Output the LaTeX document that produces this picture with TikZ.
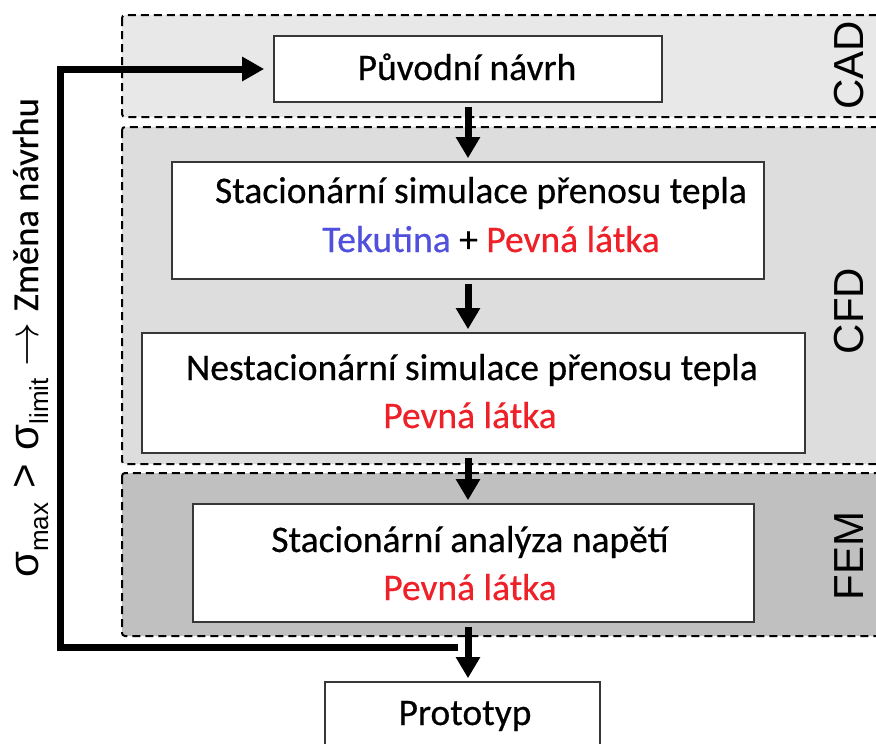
\RequirePackage{fix-cm}
\documentclass[tikz,border=0pt]{standalone}
\usepackage{fontspec}
\setmainfont{Carlito}[FakeBold=0.5]
\newfontfamily\arialf{Liberation Sans}
\usetikzlibrary{arrows.meta}
\definecolor{cadfill}{RGB}{232,232,232}
\definecolor{cfdfill}{RGB}{221,221,221}
\definecolor{femfill}{RGB}{192,192,192}
\definecolor{fluidblue}{RGB}{80,80,220}
\definecolor{solidred}{RGB}{238,32,40}
\definecolor{boxline}{RGB}{55,55,55}
\newcommand{\sigsub}[1]{\raisebox{-10pt}{\fontsize{26}{28}\selectfont #1}}
\begin{document}
\begin{tikzpicture}[x=1pt,y=-1pt,
  band/.style={draw=black, dash pattern=on 8pt off 5pt, line width=2pt, rounded corners=3pt},
  stepbox/.style={draw=boxline, fill=white, line width=1.6pt, inner sep=0pt},
  txt/.style={anchor=base, inner sep=0pt, font=\fontsize{37.5}{42}\selectfont},
  tag/.style={rotate=90, anchor=base, inner sep=0pt, font=\arialf\fontsize{42}{46}\selectfont},
  flow/.style={line width=7pt, -{Triangle[width=23pt,length=21pt]}, shorten <=4pt, shorten >=3pt},
]
\useasboundingbox (0,0) rectangle (876,744);
\clip (0,0) rectangle (876,744);
% bands
\draw[band, fill=cadfill] (122,15) rectangle (895,117);
\draw[band, fill=cfdfill] (122,127) rectangle (895,464);
\draw[band, fill=femfill] (122,473) rectangle (895,636);
% boxes
\node[stepbox, minimum width=388pt, minimum height=66pt] (orig) at (468,69) {};
\node[stepbox, minimum width=592pt, minimum height=117pt] (sim1) at (468,220.5) {};
\node[stepbox, minimum width=663pt, minimum height=120pt] (sim2) at (473.5,393) {};
\node[stepbox, minimum width=561pt, minimum height=118pt] (fem) at (473.5,563) {};
\node[stepbox, minimum width=275pt, minimum height=80pt] (proto) at (462.5,722) {};
% texts
\node[txt] (t0) at (467,80) {Původní návrh};
\node[txt] (t1a) at (481,203) {Stacionární simulace přenosu tepla};
\node[txt] (t1b) at (491,252) {{\color{fluidblue}Tekutina} + {\color{solidred}Pevná látka}};
\node[txt] (t2a) at (472,380) {Nestacionární simulace přenosu tepla};
\node[txt, text=solidred] (t2b) at (470,428) {Pevná látka};
\node[txt] (t3a) at (470,552) {Stacionární analýza napětí};
\node[txt, text=solidred] (t3b) at (470,600) {Pevná látka};
\node[txt] (t4) at (465,725) {Prototyp};
% tags
\node[tag] (cad) at (863,65.5) {CAD};
\node[tag] (cfd) at (863,311) {CFD};
\node[tag] (femt) at (863,556) {FEM};
% flow arrows
\coordinate (axis) at (468,0);
\draw[flow] (axis |- orig.south) -- (axis |- sim1.north);
\draw[flow] (axis |- sim1.south) -- (axis |- sim2.north);
\draw[flow] (axis |- sim2.south) -- (axis |- fem.north);
\draw[flow] (axis |- fem.south) -- (axis |- proto.north);
% feedback
\coordinate (fb0) at (458,647);
\coordinate (fbcorner) at (60,647);
\draw[line width=7pt, -{Triangle[width=23pt,length=22pt]}, shorten >=9pt] (fb0) -- (fbcorner) |- (orig.west);
% condition label
\node[rotate=90, anchor=base, inner sep=0pt] (cond) at (38,338)
 {{\arialf\fontsize{42}{44}\selectfont σ\sigsub{max}\hspace{14pt}>\hspace{14pt}σ\sigsub{limit}\hspace{12pt}{\fontsize{44}{48}\selectfont$\rightarrow$}}\hspace{11pt}{\fontsize{36.5}{40}\selectfont Změna návrhu}};
\end{tikzpicture}
\end{document}
